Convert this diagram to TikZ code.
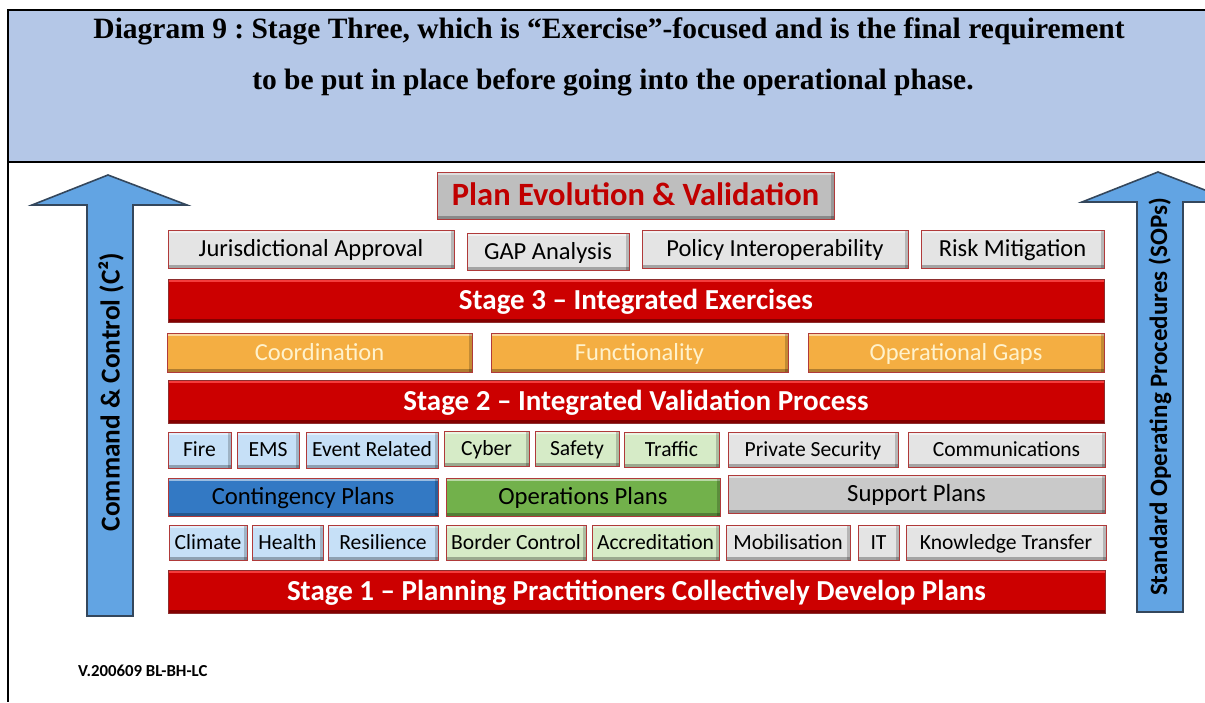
\documentclass[tikz,border=0pt]{standalone}
\usepackage{fontspec}
\setmainfont{Carlito}
\newfontfamily\hdrfont{Liberation Serif}
\frenchspacing
\definecolor{hdrblue}{HTML}{B4C7E7}
\definecolor{boxedge}{HTML}{B03A3A}
\definecolor{paleGray}{HTML}{E4E4E4}
\definecolor{midGray}{HTML}{BEBEBE}
\definecolor{supGray}{HTML}{C9C9C9}
\definecolor{barRed}{HTML}{CC0000}
\definecolor{darkRed}{HTML}{C00000}
\definecolor{orangeFill}{HTML}{F4AE42}
\definecolor{creamText}{HTML}{FFF2CC}
\definecolor{paleBlue}{HTML}{C6E0F7}
\definecolor{paleGreen}{HTML}{D6EBC7}
\definecolor{contBlue}{HTML}{3379C4}
\definecolor{opsGreen}{HTML}{72B14B}
\definecolor{arrowFill}{HTML}{62A4E3}
\definecolor{arrowEdge}{HTML}{34475C}

\tikzset{
  bevel/.style={path picture={
    \fill[white,opacity=.5] (path picture bounding box.north west) rectangle ([yshift=-2.5pt]path picture bounding box.north east);
    \fill[black,opacity=.28] ([yshift=3pt]path picture bounding box.south west) rectangle (path picture bounding box.south east);
    \fill[black,opacity=.2] ([xshift=-3pt]path picture bounding box.north east) rectangle (path picture bounding box.south east);
  }},
  box/.style={draw=boxedge, line width=0.9pt, bevel, inner sep=0pt, align=center},
  % text box sized so that capitals sit in the middle of each box
  size245/.style={font=\fontsize{24.5}{27}\selectfont, text height=21.9pt, text depth=6.1pt},
  size216/.style={font=\fontsize{21.6}{24}\selectfont, text height=19.3pt, text depth=5.4pt},
  size247/.style={font=\fontsize{24.7}{27}\selectfont, text height=22.1pt, text depth=6.2pt},
  grayitem/.style={box, fill=paleGray, size245},
  blueitem/.style={box, fill=paleBlue, size216},
  greenitem/.style={box, fill=paleGreen, size216},
  smallgray/.style={box, fill=paleGray, size216},
  focusitem/.style={box, fill=orangeFill, text=creamText, size245},
  planitem/.style={box, size247},
  stagebar/.style={draw=boxedge!80!black, line width=0.9pt, fill=barRed, inner sep=0pt,
    text=white, font=\bfseries\fontsize{29}{32}\selectfont, text height=25.9pt, text depth=7.25pt,
    path picture={
      \fill[red!70!white,opacity=.8] (path picture bounding box.north west) rectangle ([yshift=-3pt]path picture bounding box.north east);
      \fill[black,opacity=.35] ([yshift=3pt]path picture bounding box.south west) rectangle (path picture bounding box.south east);
    }},
  arrowbody/.style={fill=arrowFill, draw=arrowEdge, line width=1.6pt, line join=miter},
  arrowtext/.style={rotate=90, font=\bfseries\fontsize{25}{28}\selectfont, inner sep=0pt},
  titleline/.style={font=\hdrfont\bfseries\fontsize{29.5}{32}\selectfont, anchor=base, inner sep=0pt},
}

% box by corners: style, name, x1, y1, x2, y2, text
\newcommand\bx[7]{%
  \pgfmathsetmacro\bxw{#5-#3}\pgfmathsetmacro\bxh{#6-#4}%
  \pgfmathsetmacro\bxcx{(#3+#5)/2}\pgfmathsetmacro\bxcy{(#4+#6)/2}%
  \node[#1, minimum width=\bxw pt, minimum height=\bxh pt] (#2) at (\bxcx,\bxcy) {#7};}

\begin{document}
\begin{tikzpicture}[x=1pt, y=-1pt]
\useasboundingbox (0,0) rectangle (1205,702);
\fill[white] (0,0) rectangle (1205,702);

% title band
\fill[hdrblue] (8,10) rectangle (1212,162);
\draw[line width=2.5pt] (1212,10) -- (8,10) -- (8,702);
\draw[line width=2.5pt] (8,162) -- (1212,162);
\node[titleline] (t1) at (609,38)
  {Diagram 9 : Stage Three, which is “Exercise”-focused and is the final requirement};
\node[titleline] (t2) at (613,89)
  {to be put in place before going into the operational phase.};

% side arrows
\begin{scope}
\clip (0,163) rectangle (1205,702);
\draw[arrowbody] (108,175) -- (187,205) -- (133,205) -- (133,616) -- (87,616) -- (87,205) -- (32,205) -- cycle;
\draw[arrowbody] (1158,172) -- (1236,202) -- (1183,202) -- (1183,612) -- (1137,612) -- (1137,202) -- (1082,202) -- cycle;
\end{scope}
\node[arrowtext, font=\bfseries\fontsize{27.3}{30}\selectfont] (c2) at (111,392) {Command \& Control (C²)};
\node[arrowtext] (sops) at (1160,397) {Standard Operating Procedures (SOPs)};

% top
\bx{box, fill=midGray, text=darkRed, font=\bfseries\fontsize{32.5}{35}\selectfont, text height=29pt, text depth=8.1pt}{pev}{437}{172}{834}{219}{Plan Evolution \& Validation}

\bx{grayitem}{ja}{168}{230}{454}{268}{Jurisdictional Approval}
\bx{grayitem}{gap}{467}{233}{629}{270}{GAP Analysis}
\bx{grayitem}{pi}{642}{230}{908}{268}{Policy Interoperability}
\bx{grayitem}{rm}{921}{230}{1104}{268}{Risk Mitigation}

\bx{stagebar}{s3}{168}{279}{1104}{322}{Stage 3 – Integrated Exercises}

\bx{focusitem}{coord}{167}{333}{472}{372}{Coordination}
\bx{focusitem}{func}{491}{333}{788}{372}{Functionality}
\bx{focusitem}{ogaps}{808}{333}{1104}{372}{Operational Gaps}

\bx{stagebar}{s2}{168}{380}{1104}{423}{Stage 2 – Integrated Validation Process}

\bx{blueitem}{fire}{168}{432}{231}{468}{Fire}
\bx{blueitem}{ems}{237}{432}{299}{468}{EMS}
\bx{blueitem}{evr}{306}{432}{438}{468}{Event Related}
\bx{greenitem}{cyber}{444}{431}{529}{466}{Cyber}
\bx{greenitem}{safety}{535}{431}{619}{466}{Safety}
\bx{greenitem}{traffic}{624}{432}{719}{467}{Traffic}
\bx{smallgray}{psec}{728}{432}{898}{467}{Private Security}
\bx{smallgray}{comm}{908}{432}{1105}{467}{Communications}

\bx{planitem, fill=contBlue}{cont}{168}{478}{438}{516}{Contingency Plans}
\bx{planitem, fill=opsGreen}{ops}{446}{478}{720}{516}{Operations Plans}
\bx{planitem, fill=supGray}{supp}{728}{475}{1105}{513}{Support Plans}

\bx{blueitem}{clim}{169}{525}{247}{560}{Climate}
\bx{blueitem}{health}{252}{525}{323}{560}{Health}
\bx{blueitem}{resil}{328}{525}{438}{560}{Resilience}
\bx{greenitem}{border}{446}{525}{586}{560}{Border Control}
\bx{greenitem}{accr}{592}{525}{719}{560}{Accreditation}
\bx{smallgray}{mob}{726}{525}{850}{560}{Mobilisation}
\bx{smallgray}{it}{858}{525}{899}{560}{IT}
\bx{smallgray}{kt}{906}{525}{1106}{560}{Knowledge Transfer}

\bx{stagebar}{s1}{168}{570}{1105}{613}{Stage 1 – Planning Practitioners Collectively Develop Plans}

\node[anchor=west, font=\bfseries\fontsize{16.8}{19}\selectfont, inner sep=0pt] (ver) at (78,671) {V.200609 BL-BH-LC};
\end{tikzpicture}
\end{document}
